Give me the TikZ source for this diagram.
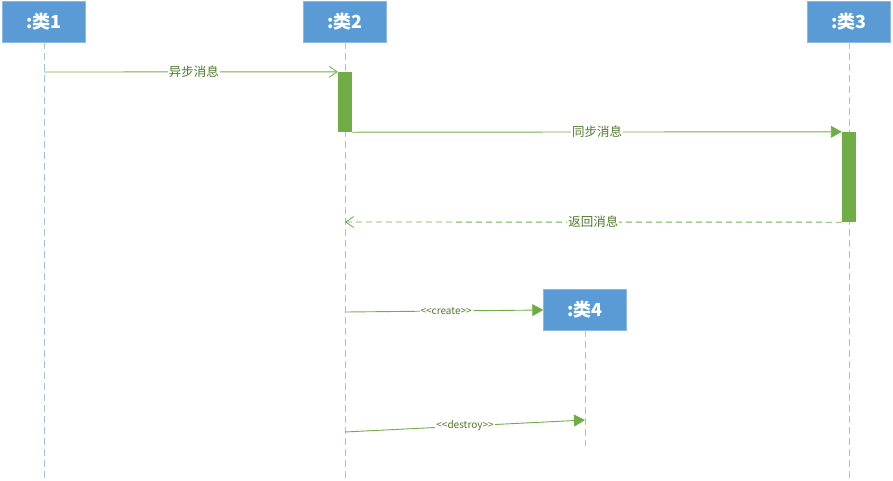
\documentclass[tikz,border=0pt]{standalone}
\usepackage{fontspec}
\setmainfont{Noto Sans CJK SC}
\newfontfamily\lblfont{Noto Sans CJK SC}
\usetikzlibrary{arrows.meta}
\definecolor{boxblue}{HTML}{5B9BD5}
\definecolor{lifeblue}{HTML}{9DC3E6}
\definecolor{msggreen}{HTML}{70AD47}
\definecolor{txtgreen}{HTML}{4E7A2A}
\tikzset{
  classbox/.style={fill=boxblue, draw=boxblue!70!white, minimum width=83pt, minimum height=41pt, inner sep=0pt, text=white, font=\fontsize{18}{20}\selectfont\bfseries},
  lifeline/.style={draw=lifeblue, dash pattern=on 7pt off 4pt, line width=0.8pt},
  activation/.style={fill=msggreen, draw=none},
  msg/.style={draw=msggreen, line width=0.9pt},
  msglabel/.style={fill=white, text=txtgreen, inner sep=1pt, font=\fontsize{12.5}{13}\selectfont},
  smalllabel/.style={fill=white, text=txtgreen, inner sep=1pt, font=\lblfont\fontsize{10}{11}\selectfont},
  openhead/.style={-{Straight Barb[length=8pt,width=11pt,line width=0.8pt]}},
  filledhead/.style={-{Triangle[length=11pt,width=12pt]}}
}
\begin{document}
\begin{tikzpicture}[x=1pt,y=-1pt]
\useasboundingbox (0,0) rectangle (893,480);
% class boxes
\node[classbox] (c1) at (44,21.5) {:类1};
\node[classbox] (c2) at (345,21.5) {:类2};
\node[classbox] (c3) at (849,21.5) {:类3};
\node[classbox] (c4) at (585,309.5) {:类4};
% lifeline ends
\coordinate (e1) at (44,478);
\coordinate (e2) at (345,478);
\coordinate (e3) at (849,478);
\coordinate (e4) at (585,446);
\draw[lifeline] (c1.south) -- (e1);
\draw[lifeline] (c2.south) -- (e2);
\draw[lifeline] (c3.south) -- (e3);
\draw[lifeline] (c4.south) -- (e4);
% activations
\node[activation, minimum width=14pt, minimum height=60pt, inner sep=0pt] (a2) at (345,102) {};
\node[activation, minimum width=14pt, minimum height=90pt, inner sep=0pt] (a3) at (849,177) {};
% messages
\coordinate (s1) at (44,72);
\draw[msg, openhead] (s1) -- (a2.north west) node[msglabel, pos=0.51] {异步消息};
\draw[msg, filledhead] (a2.south east) -- (a3.north west) node[msglabel, pos=0.5] {同步消息};
\coordinate (r2) at (345,222);
\draw[msg, dashed, dash pattern=on 6pt off 4pt, openhead] (a3.south west) -- (r2) node[msglabel, pos=0.5] {返回消息};
\coordinate (cr) at (345,312);
\draw[msg, filledhead] (cr) -- (c4.west |- 0,310) node[smalllabel, pos=0.51] {<<create>>};
\coordinate (ds) at (345,432);
\coordinate (dt) at (585,420);
\draw[msg, filledhead] (ds) -- (dt) node[smalllabel, pos=0.5] {<<destroy>>};
\end{tikzpicture}
\end{document}
